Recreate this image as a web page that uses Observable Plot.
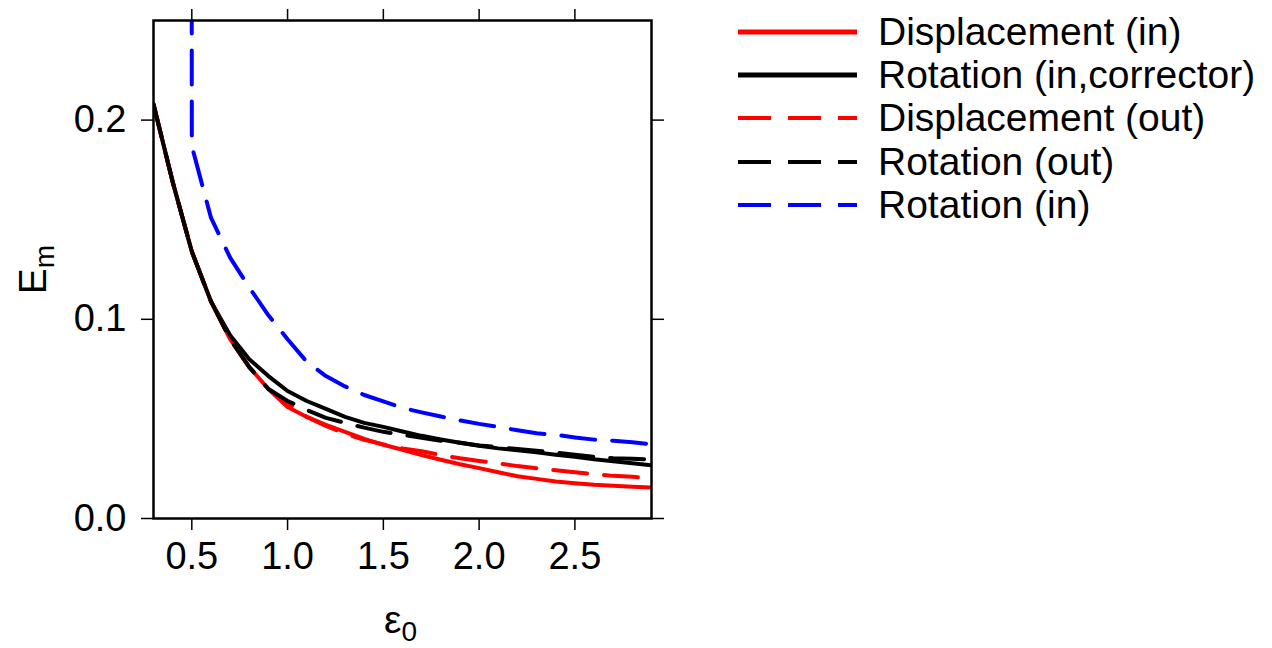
<!DOCTYPE html>
<html><head><meta charset="utf-8">
<script src="https://cdn.jsdelivr.net/npm/d3@7"></script>
<script src="https://cdn.jsdelivr.net/npm/@observablehq/plot@0.6"></script>
<style>
body{margin:0;background:#fff;font-family:"Liberation Sans",Arial,Helvetica,sans-serif;}
#wrap{position:relative;width:1272px;height:648px;overflow:hidden;}
#legend{position:absolute;left:738px;top:10px;}
.row{height:43.3px;display:flex;align-items:center;font-size:39px;color:#000;white-space:nowrap;}
.row svg{margin-right:21px;flex:none;}
.lab{position:absolute;font-size:39px;color:#000;white-space:nowrap;line-height:1;}
.lab sub{font-size:28px;vertical-align:baseline;position:relative;top:0.3em;}
</style></head><body><div id="wrap"></div>
<script>
const eps0 = [0.3,0.4,0.5,0.6,0.7,0.8,0.9,1.0,1.1,1.2,1.3,1.4,1.5,1.6,1.7,1.8,1.9,2.0,2.1,2.2,2.3,2.4,2.5,2.6,2.7,2.8,2.9];
const dispIn    = [0.208,0.169,0.134,0.109,0.090,0.076,0.065,0.056,0.051,0.047,0.0435,0.040,0.037,0.0345,0.0318,0.0295,0.0272,0.0253,0.0232,0.0212,0.0199,0.0186,0.0177,0.0169,0.0165,0.0160,0.0155];
const rotInCorr = [0.208,0.169,0.134,0.109,0.092,0.080,0.0715,0.064,0.059,0.055,0.051,0.048,0.046,0.0437,0.0415,0.0397,0.038,0.0365,0.0352,0.0343,0.0332,0.032,0.031,0.0297,0.0287,0.0277,0.0267];
const dispOut   = [0.208,0.169,0.134,0.109,0.090,0.076,0.065,0.058,0.051,0.0465,0.0425,0.0395,0.0372,0.0352,0.0338,0.0318,0.0302,0.0289,0.0277,0.0263,0.0252,0.0242,0.0232,0.0222,0.0214,0.0209,0.0204];
const rotOut    = [0.208,0.169,0.134,0.109,0.090,0.076,0.065,0.059,0.0545,0.0505,0.048,0.0456,0.0435,0.042,0.0405,0.039,0.038,0.0367,0.0358,0.0349,0.034,0.0331,0.032,0.031,0.0302,0.0300,0.0296];
const rotIn     = [null,20.0,0.187,0.151,0.131,0.116,0.102,0.090,0.0787,0.0715,0.0663,0.062,0.0588,0.0555,0.0533,0.0512,0.0493,0.0475,0.046,0.0443,0.0428,0.042,0.0407,0.0396,0.039,0.0383,0.0372];

const seriesNames = ["Displacement (in)","Rotation (in,corrector)","Displacement (out)","Rotation (out)","Rotation (in)"];
const seriesColors = ["#ff0000","#000000","#ff0000","#000000","#0000ff"];
const seriesDash = [null,null,"34,17","34,17","34,17"];
const seriesValues = [dispIn, rotInCorr, dispOut, rotOut, rotIn];
const xTicks = [0.5,1.0,1.5,2.0,2.5];
const yTicks = [0.0,0.1,0.2];

const lines = seriesValues.map((vals,i) => {
  const data = eps0.map((x,j) => ({x, y: vals[j]}));
  return Plot.line(data, {x:"x", y:"y", stroke: seriesColors[i], strokeWidth: 4,
    strokeDasharray: seriesDash[i] || undefined, clip: true, curve: "linear"});
});

const fs = 38;
const chart = Plot.plot({
  width: 1272, height: 648,
  marginLeft: 153, marginRight: 621, marginTop: 20, marginBottom: 130,
  style: {fontFamily: '"Liberation Sans",Arial,sans-serif', fontSize: fs+"px", color:"#000", background:"#fff"},
  x: {domain: [0.3, 2.9]},
  y: {domain: [0, 0.25]},
  marks: [
    ...lines,
    Plot.axisX({anchor:"bottom", ticks: xTicks, tickFormat: d3.format(".1f"), tickSize: 12, tickPadding: 12, strokeWidth: 1.5, label: null, fontSize: fs}),
    Plot.axisX({anchor:"top", ticks: xTicks, tickFormat: () => "", tickSize: 12, strokeWidth: 1.5, label: null}),
    Plot.axisY({anchor:"left", ticks: yTicks, tickFormat: d3.format(".1f"), tickSize: 12, tickPadding: 15, strokeWidth: 1.5, label: null, fontSize: fs}),
    Plot.axisY({anchor:"right", ticks: yTicks, tickFormat: () => "", tickSize: 12, strokeWidth: 1.5, label: null}),
    Plot.frame({stroke:"#000", strokeWidth: 2.5})
  ]
});
const wrap = document.getElementById("wrap");
wrap.appendChild(chart);

// axis labels
const xl = document.createElement("div");
xl.className = "lab";
xl.innerHTML = "ε<sub>0</sub>";
xl.style.left = "384px"; xl.style.top = "600px";
wrap.appendChild(xl);

const yl = document.createElement("div");
yl.className = "lab";
yl.innerHTML = "E<sub>m</sub>";
yl.style.left = "8px"; yl.style.top = "250px";
yl.style.transform = "rotate(-90deg)";
yl.style.transformOrigin = "center center";
wrap.appendChild(yl);

// legend
const lg = document.createElement("div");
lg.id = "legend";
seriesNames.forEach((name,i) => {
  const row = document.createElement("div");
  row.className = "row";
  const sw = d3.create("svg").attr("width",119).attr("height",20);
  sw.append("line").attr("x1",0).attr("x2",119).attr("y1",10).attr("y2",10)
    .attr("stroke",seriesColors[i]).attr("stroke-width", seriesDash[i] ? 4 : 5)
    .attr("stroke-dasharray", seriesDash[i] ? "33,17" : null);
  row.appendChild(sw.node());
  const t = document.createElement("span");
  t.textContent = name;
  row.appendChild(t);
  lg.appendChild(row);
});
wrap.appendChild(lg);
</script>
</body></html>
